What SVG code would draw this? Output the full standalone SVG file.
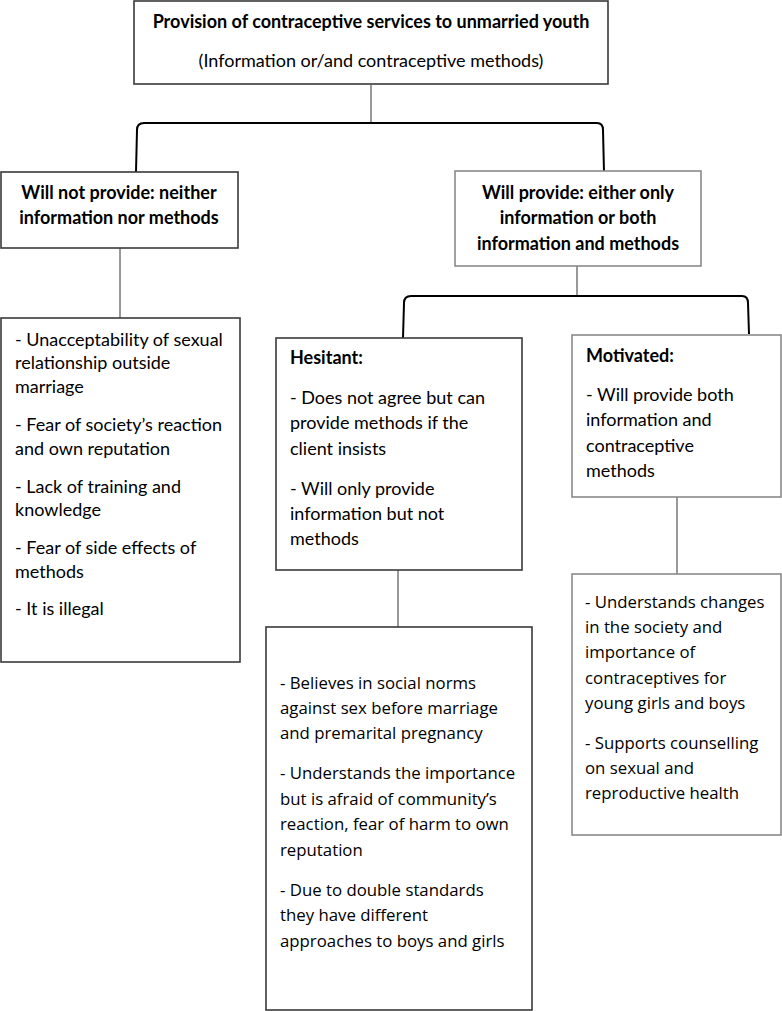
<svg xmlns="http://www.w3.org/2000/svg" width="782" height="1011" viewBox="0 0 782 1011">
<style>
.box{fill:#fff;stroke:#3a3a3a;stroke-width:1.6}
.lbox{fill:#fff;stroke:#8a8a8a;stroke-width:1.6}
.t{font-family:Lato,"Liberation Sans",sans-serif;font-size:18px;fill:#000}
.b{font-weight:bold}
.o{font-family:"Open Sans","Liberation Sans",sans-serif;font-size:16.8px;fill:#000}
.stem{stroke:#333;stroke-width:1;fill:none}
.br{stroke:#000;stroke-width:2;fill:none}
</style>
<rect width="782" height="1011" fill="#fff"/>
<g id="connectors">
<line class="stem" x1="371" y1="85" x2="371" y2="123"/>
<path class="br" d="M136,172 L137,130 Q137,123 144,123 L597,123 Q603,123 603,130 L604,172"/>
<line class="stem" x1="120" y1="248" x2="120" y2="318"/>
<line class="stem" x1="577" y1="266" x2="577" y2="296"/>
<path class="br" d="M403,338 L404,303 Q404,296 411,296 L742,296 Q748,296 748,303 L749,334"/>
<line class="stem" x1="398" y1="570" x2="398" y2="627"/>
<line class="stem" x1="677" y1="497" x2="677" y2="574"/>
</g>
<g id="root">
<rect class="box" x="134" y="1" width="474" height="83"/>
<text class="t b" x="371" y="28" text-anchor="middle">Provision of contraceptive services to unmarried youth</text>
<text class="t" x="371" y="67" text-anchor="middle">(Information or/and contraceptive methods)</text>
</g>
<g id="will-not">
<rect class="box" x="1" y="172" width="237" height="76"/>
<text class="t b" x="119" y="199" text-anchor="middle">Will not provide: neither</text>
<text class="t b" x="119" y="224" text-anchor="middle">information nor methods</text>
</g>
<g id="will">
<rect class="lbox" x="455" y="171" width="246" height="95"/>
<text class="t b" x="578" y="199" text-anchor="middle">Will provide: either only</text>
<text class="t b" x="578" y="224" text-anchor="middle">information or both</text>
<text class="t b" x="578" y="250" text-anchor="middle">information and methods</text>
</g>
<g id="reasons-not">
<rect class="box" x="1" y="318" width="239" height="344"/>
<text class="t" x="15" y="346">- Unacceptability of sexual</text>
<text class="t" x="15" y="369">relationship outside</text>
<text class="t" x="15" y="393">marriage</text>
<text class="t" x="15" y="431">- Fear of society’s reaction</text>
<text class="t" x="15" y="455">and own reputation</text>
<text class="t" x="15" y="493">- Lack of training and</text>
<text class="t" x="15" y="516">knowledge</text>
<text class="t" x="15" y="554">- Fear of side effects of</text>
<text class="t" x="15" y="578">methods</text>
<text class="t" x="15" y="615">- It is illegal</text>
</g>
<g id="hesitant">
<rect class="box" x="276" y="338" width="246" height="232"/>
<text class="t b" x="290" y="364">Hesitant:</text>
<text class="t" x="290" y="404">- Does not agree but can</text>
<text class="t" x="290" y="429">provide methods if the</text>
<text class="t" x="290" y="455">client insists</text>
<text class="t" x="290" y="495">- Will only provide</text>
<text class="t" x="290" y="520">information but not</text>
<text class="t" x="290" y="545">methods</text>
</g>
<g id="motivated">
<rect class="lbox" x="572" y="335" width="209" height="162"/>
<text class="t b" x="586" y="362">Motivated:</text>
<text class="t" x="586" y="401">- Will provide both</text>
<text class="t" x="586" y="426">information and</text>
<text class="t" x="586" y="452">contraceptive</text>
<text class="t" x="586" y="477">methods</text>
</g>
<g id="hesitant-reasons">
<rect class="box" x="266" y="627" width="266" height="383"/>
<text class="o" x="280" y="689">- Believes in social norms</text>
<text class="o" x="280" y="714">against sex before marriage</text>
<text class="o" x="280" y="739">and premarital pregnancy</text>
<text class="o" x="280" y="779">- Understands the importance</text>
<text class="o" x="280" y="805">but is afraid of community’s</text>
<text class="o" x="280" y="830">reaction, fear of harm to own</text>
<text class="o" x="280" y="856">reputation</text>
<text class="o" x="280" y="896">- Due to double standards</text>
<text class="o" x="280" y="921">they have different</text>
<text class="o" x="280" y="947">approaches to boys and girls</text>
</g>
<g id="motivated-reasons">
<rect class="lbox" x="572" y="574" width="209" height="261"/>
<text class="o" x="585" y="608">- Understands changes</text>
<text class="o" x="585" y="633">in the society and</text>
<text class="o" x="585" y="658">importance of</text>
<text class="o" x="585" y="684">contraceptives for</text>
<text class="o" x="585" y="709">young girls and boys</text>
<text class="o" x="585" y="749">- Supports counselling</text>
<text class="o" x="585" y="774">on sexual and</text>
<text class="o" x="585" y="799">reproductive health</text>
</g>
</svg>
